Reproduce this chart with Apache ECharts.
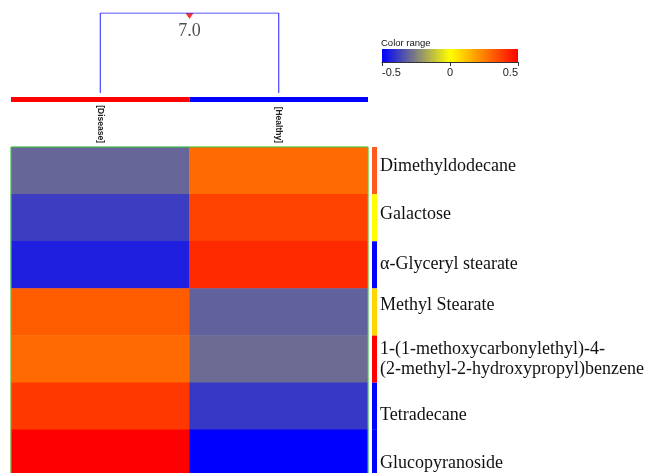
<!DOCTYPE html>
<html><head><meta charset="utf-8">
<script src="https://cdn.jsdelivr.net/npm/echarts@6/dist/echarts.min.js"></script>
<style>html,body{margin:0;padding:0;background:#fff}#c{width:649px;height:473px}</style>
</head><body><div id="c"></div>
<script>
// ---- data ----
const groups = ['[Disease]', '[Healthy]'];
const groupColors = ['#ff0000', '#0000ff'];
const metabolites = [
  'Dimethyldodecane',
  'Galactose',
  'α-Glyceryl stearate',
  'Methyl Stearate',
  '1-(1-methoxycarbonylethyl)-4-\n(2-methyl-2-hydroxypropyl)benzene',
  'Tetradecane',
  'Glucopyranoside'
];
const diseaseValues = [-0.30, -0.38, -0.44, 0.32, 0.29, 0.39, 0.50];
const healthyValues = [0.29, 0.37, 0.42, -0.31, -0.29, -0.39, -0.50];
const rowStripColors = ['#ff5a1e', '#ffff00', '#0000ff', '#ffd700', '#ff0000', '#0000ff', '#0000ff'];
const clusterHeight = 7.0;
const colorTicks = [-0.5, 0, 0.5];

// ---- style ----
const labelShift = [-4, -3, -1, -7, 0, 9, 10];
const rampColors = ['#0000ff', '#ffff00', '#ff0000'];

const heatData = [];
metabolites.forEach((m, i) => {
  heatData.push([0, i, diseaseValues[i]]);
  heatData.push([1, i, healthyValues[i]]);
});

const rich = {};
labelShift.forEach((d, i) => {
  rich['r' + i] = { padding: d >= 0 ? [2 * d, 0, 0, 0] : [0, 0, -2 * d, 0] };
});

const chart = echarts.init(document.getElementById('c'), null, { renderer: 'canvas' });
chart.setOption({
  animation: false,
  backgroundColor: '#fff',
  title: {
    text: 'Color range', left: 381, top: 38, padding: 0,
    textStyle: { fontFamily: 'Liberation Sans', fontSize: 9.5, fontWeight: 'normal', color: '#111' }
  },
  grid: [
    { left: 11, top: 147, width: 357, height: 330, outerBoundsMode: 'none', show: true, z: 5, borderColor: '#3dd43d', borderWidth: 1, backgroundColor: 'transparent' },
    { left: 11, top: 13, width: 357, height: 80, outerBoundsMode: 'none' },
    { left: 11, top: 97, width: 357, height: 5, outerBoundsMode: 'none' },
    { left: 372, top: 147, width: 5, height: 330, outerBoundsMode: 'none' },
    { left: 382, top: 49, width: 136, height: 13, outerBoundsMode: 'none', show: true, borderWidth: 0,
      backgroundColor: { type: 'linear', x: 0, y: 0, x2: 1, y2: 0,
        colorStops: rampColors.map((c, i) => ({ offset: i / (rampColors.length - 1), color: c })) } }
  ],
  xAxis: [
    { gridIndex: 0, type: 'category', data: groups, position: 'top',
      axisLine: { show: false }, axisTick: { show: false }, splitLine: { show: false },
      axisLabel: { rotate: 90, margin: 4, fontFamily: 'Liberation Sans', fontWeight: 'bold', fontSize: 8.5, color: '#222' } },
    { gridIndex: 1, type: 'value', min: 0, max: groups.length, show: false },
    { gridIndex: 2, type: 'category', data: groups, show: false },
    { gridIndex: 3, type: 'value', min: 0, max: 1, show: false },
    { gridIndex: 4, type: 'value', min: colorTicks[0], max: colorTicks[colorTicks.length - 1], interval: 0.5,
      axisLine: { show: true, lineStyle: { color: '#333', width: 1 } },
      axisTick: { show: true, length: 4, lineStyle: { color: '#333' } },
      splitLine: { show: false },
      axisLabel: { margin: 5, fontFamily: 'Liberation Sans Narrow, Liberation Sans', fontSize: 11, color: '#222',
        alignMinLabel: 'left', alignMaxLabel: 'right',
        formatter: v => String(v) } }
  ],
  yAxis: [
    { gridIndex: 0, type: 'category', data: metabolites, inverse: true, show: false },
    { gridIndex: 1, type: 'value', min: 0, max: clusterHeight, show: false },
    { gridIndex: 2, type: 'value', min: 0, max: 1, show: false },
    { gridIndex: 3, type: 'category', data: metabolites, inverse: true, position: 'right',
      axisLine: { show: false }, axisTick: { show: false },
      axisLabel: { margin: 3, fontFamily: 'Liberation Serif', fontSize: 18, lineHeight: 20, color: '#111',
        formatter: (v, i) => (labelShift[i] ? '{r' + i + '|' + v + '}' : v), rich: rich } },
    { gridIndex: 4, type: 'value', min: 0, max: 1, show: false }
  ],
  visualMap: {
    show: false, seriesIndex: 0, min: colorTicks[0], max: colorTicks[colorTicks.length - 1],
    inRange: { color: rampColors }
  },
  series: [
    { type: 'heatmap', xAxisIndex: 0, yAxisIndex: 0, data: heatData, itemStyle: { borderWidth: 0 } },
    { type: 'line', xAxisIndex: 1, yAxisIndex: 1, symbol: 'none',
      lineStyle: { color: '#2020ff', width: 1 },
      data: [[0.5, 0], [0.5, clusterHeight], [1.5, clusterHeight], [1.5, 0]] },
    { type: 'scatter', xAxisIndex: 1, yAxisIndex: 1, symbol: 'triangle', symbolRotate: 180,
      symbolSize: [8, 6], symbolOffset: [0, 3], itemStyle: { color: '#ff0000' },
      label: { show: true, position: 'bottom', distance: 3, formatter: () => clusterHeight.toFixed(1),
        fontFamily: 'Liberation Serif', fontSize: 18, color: '#222' },
      data: [[groups.length / 2, clusterHeight]] },
    { type: 'bar', xAxisIndex: 2, yAxisIndex: 2, barCategoryGap: '0%',
      data: groups.map((g, i) => ({ value: 1, itemStyle: { color: groupColors[i] } })) },
    { type: 'bar', xAxisIndex: 3, yAxisIndex: 3, barCategoryGap: '0%',
      data: metabolites.map((m, i) => ({ value: 1, itemStyle: { color: rowStripColors[i] } })) }
  ]
});
</script></body></html>
